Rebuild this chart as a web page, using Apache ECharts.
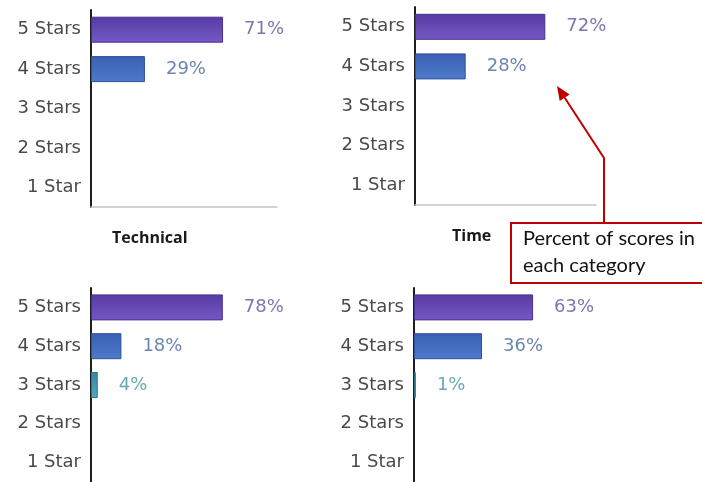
<!DOCTYPE html>
<html>
<head>
<meta charset="utf-8">
<script src="https://cdn.jsdelivr.net/npm/echarts@6/dist/echarts.min.js"></script>
<style>
  html, body { margin: 0; padding: 0; background: #fff; }
  #chart { width: 702px; height: 482px; }
</style>
</head>
<body>
<div id="chart"></div>
<script>
// Star-rating categories, top to bottom
const categories = ['5 Stars', '4 Stars', '3 Stars', '2 Stars', '1 Star'];

// Percent of scores per rating, one array per panel
const technical = [71, 29, 0, 0, 0];
const time = [72, 28, 0, 0, 0];
const panel3 = [78, 18, 4, 0, 0];
const panel4 = [63, 36, 1, 0, 0];

const panelTitles = ['Technical', 'Time'];
const noteLines = ['Percent of scores in', 'each category'];

// Bar fills and label colours by rating row
const barFill = [
  ['#573ba3', '#7459c6', '#47318e'],
  ['#3a5fb2', '#4d7bcb', '#2f519c'],
  ['#37889f', '#4fa8bf', '#2d7489'],
  ['#888', '#aaa', '#777'],
  ['#888', '#aaa', '#777']
];
const labelColors = ['#7d76b0', '#6d86ad', '#6aa8b6', '#888', '#888'];

const grids = [
  { left: 91, top: 10, width: 186, height: 197 },
  { left: 415, top: 7, width: 181, height: 198 },
  { left: 91, top: 288, width: 169, height: 210 },
  { left: 414, top: 288, width: 189, height: 210 }
];
const panels = [technical, time, panel3, panel4];

function barItems(values) {
  return values.map((v, i) => ({
    value: v,
    itemStyle: {
      color: new echarts.graphic.LinearGradient(0, 0, 0, 1, [
        { offset: 0, color: barFill[i][0] },
        { offset: 1, color: barFill[i][1] }
      ]),
      borderColor: barFill[i][2],
      borderWidth: v > 0 ? 1 : 0,
      opacity: v > 0 ? 1 : 0
    },
    label: { color: labelColors[i] }
  }));
}

const option = {
  animation: false,
  backgroundColor: '#ffffff',
  grid: grids,
  xAxis: grids.map((g, i) => ({
    type: 'value',
    gridIndex: i,
    min: 0,
    max: 100,
    axisLine: { show: i < 2, lineStyle: { color: '#c4c4c4', width: 1.5 } },
    axisTick: { show: false },
    axisLabel: { show: false },
    splitLine: { show: false }
  })),
  yAxis: grids.map((g, i) => ({
    type: 'category',
    gridIndex: i,
    data: categories,
    inverse: true,
    axisLine: { show: true, lineStyle: { color: '#1e1e1e', width: 2 } },
    axisTick: { show: false },
    axisLabel: {
      margin: 10,
      color: '#4a4a4a',
      fontFamily: 'DejaVu Sans',
      fontSize: 18
    }
  })),
  series: panels.map((vals, i) => ({
    type: 'bar',
    xAxisIndex: i,
    yAxisIndex: i,
    barWidth: 26,
    data: barItems(vals),
    label: {
      show: true,
      position: 'right',
      distance: 21,
      fontFamily: 'DejaVu Sans',
      fontSize: 18,
      formatter: p => (p.value > 0 ? p.value + '%' : '')
    }
  })),
  graphic: [
    {
      type: 'text', left: 112, top: 230,
      style: { text: panelTitles[0], fontFamily: 'Open Sans', fontWeight: 'bold', fontSize: 16, fill: '#1a1a1a' }
    },
    {
      type: 'text', left: 452, top: 228,
      style: { text: panelTitles[1], fontFamily: 'Open Sans', fontWeight: 'bold', fontSize: 16, fill: '#1a1a1a' }
    },
    // callout leader
    {
      type: 'polyline',
      shape: { points: [[604, 223], [604, 158], [564.7, 97.7]] },
      style: { stroke: '#c00000', lineWidth: 2, fill: null }
    },
    {
      type: 'polygon',
      shape: { points: [[557, 86], [569.7, 94.4], [559.7, 101]] },
      style: { fill: '#c00000' }
    },
    {
      type: 'rect',
      shape: { x: 511, y: 223, width: 194, height: 60 },
      style: { fill: '#ffffff', stroke: '#c00000', lineWidth: 2 }
    },
    {
      type: 'text', left: 523, top: 229,
      style: { text: noteLines[0], fontFamily: 'Lato', fontSize: 20, fill: '#111' }
    },
    {
      type: 'text', left: 523, top: 256,
      style: { text: noteLines[1], fontFamily: 'Lato', fontSize: 20, fill: '#111' }
    }
  ]
};

const chart = echarts.init(document.getElementById('chart'), null, { renderer: 'canvas' });
chart.setOption(option);
</script>
</body>
</html>
